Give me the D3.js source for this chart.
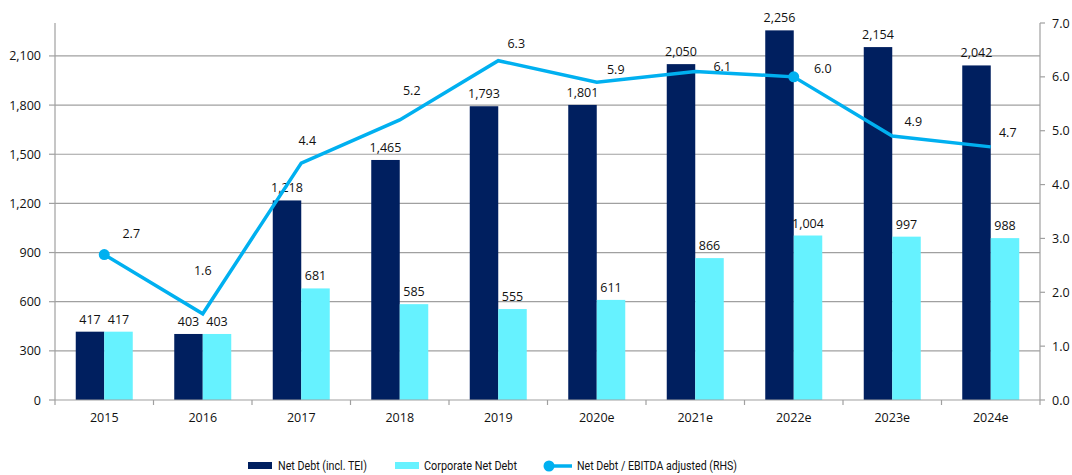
<!DOCTYPE html>
<html><head><meta charset="utf-8">
<script src="https://cdn.jsdelivr.net/npm/d3@7"></script>
<style>body{margin:0;background:#fff}svg{display:block;font-family:"Open Sans","Noto Sans",sans-serif}</style>
</head><body>
<svg id="c" width="1072" height="475"></svg>
<script>
const categories = ["2015","2016","2017","2018","2019","2020e","2021e","2022e","2023e","2024e"];
const netDebt = [417,403,1218,1465,1793,1801,2050,2256,2154,2042];
const corpNetDebt = [417,403,681,585,555,611,866,1004,997,988];
const ratio = [2.7,1.6,4.4,5.2,6.3,5.9,6.1,6.0,4.9,4.7];
const leftTicks = [0,300,600,900,1200,1500,1800,2100];
const rightTicks = [0,1,2,3,4,5,6,7];
const markerIdx = [0,7];
const legendLabels = ["Net Debt (incl. TEI)","Corporate Net Debt","Net Debt / EBITDA adjusted (RHS)"];
// label placement offsets (layout only)
const ratioLabelDx = [27,0,6,12,18,19,27,29,21,17];
const ratioLabelDy = [-21,-43,-23,-29,-17,-13,-5,-8,-15,-14];

const svg = d3.select("#c");
const L=55, R=1040, T=23, B=400;
const x = d3.scaleBand().domain(categories).range([L,R]);
const yL = d3.scaleLinear().domain([0,2301]).range([B,T]);
const yR = d3.scaleLinear().domain([0,7]).range([B,T]);
const axisCol="#a0a0a0";

// gridlines
svg.append("g").selectAll("line").data(leftTicks.filter(d=>d>0)).join("line")
  .attr("x1",L).attr("x2",R).attr("y1",d=>yL(d)).attr("y2",d=>yL(d))
  .attr("stroke",axisCol).attr("stroke-width",1.2);

// bars
const bw = 28.5;
const g = svg.append("g");
g.selectAll(".nd").data(netDebt).join("rect")
  .attr("x",(d,i)=>x(categories[i])+x.bandwidth()/2-bw).attr("width",bw)
  .attr("y",d=>yL(d)).attr("height",d=>B-yL(d)).attr("fill","#001F5F");
g.selectAll(".cd").data(corpNetDebt).join("rect")
  .attr("x",(d,i)=>x(categories[i])+x.bandwidth()/2).attr("width",bw)
  .attr("y",d=>yL(d)).attr("height",d=>B-yL(d)).attr("fill","#66F2FF");

// bar labels
const fmt = d3.format(",");
const lab = svg.append("g").attr("font-size",12.5).attr("fill","#111").attr("text-anchor","middle");
netDebt.forEach((d,i)=>lab.append("text").attr("x",x(categories[i])+x.bandwidth()/2-bw/2).attr("y",yL(d)-8).text(fmt(d)));
corpNetDebt.forEach((d,i)=>lab.append("text").attr("x",x(categories[i])+x.bandwidth()/2+bw/2).attr("y",yL(d)-8).text(fmt(d)));

// axes
const xAxisG = svg.append("g");
xAxisG.append("line").attr("x1",L).attr("x2",R).attr("y1",B).attr("y2",B).attr("stroke",axisCol).attr("stroke-width",1.2);
d3.range(categories.length+1).forEach(i=>{
  const xx = L + i*x.step();
  xAxisG.append("line").attr("x1",xx).attr("x2",xx).attr("y1",B).attr("y2",B+5).attr("stroke",axisCol).attr("stroke-width",1.2);
});
categories.forEach(c=>xAxisG.append("text").attr("x",x(c)+x.bandwidth()/2).attr("y",B+22)
  .attr("text-anchor","middle").attr("font-size",12.5).attr("fill","#111").text(c));

const lA = svg.append("g");
lA.append("line").attr("x1",L).attr("x2",L).attr("y1",T).attr("y2",B).attr("stroke",axisCol).attr("stroke-width",1.2);
leftTicks.forEach(t=>{
  lA.append("line").attr("x1",L-6).attr("x2",L).attr("y1",yL(t)).attr("y2",yL(t)).attr("stroke",axisCol).attr("stroke-width",1.2);
  lA.append("text").attr("x",L-14).attr("y",yL(t)+4.5).attr("text-anchor","end").attr("font-size",12.5).attr("fill","#111").text(fmt(t));
});
const rA = svg.append("g");
rA.append("line").attr("x1",R).attr("x2",R).attr("y1",T).attr("y2",B).attr("stroke",axisCol).attr("stroke-width",1.2);
rightTicks.forEach(t=>{
  rA.append("line").attr("x1",R).attr("x2",R+5).attr("y1",yR(t)).attr("y2",yR(t)).attr("stroke",axisCol).attr("stroke-width",1.2);
  rA.append("text").attr("x",R+12).attr("y",yR(t)+4.5).attr("text-anchor","start").attr("font-size",12.5).attr("fill","#111").text(t.toFixed(1));
});

// line
const cx = i=>x(categories[i])+x.bandwidth()/2;
svg.append("path").datum(ratio)
  .attr("d",d3.line().x((d,i)=>cx(i)).y(d=>yR(d)))
  .attr("fill","none").attr("stroke","#00B0F0").attr("stroke-width",3.5).attr("stroke-linejoin","miter");
markerIdx.forEach(i=>svg.append("circle").attr("cx",cx(i)).attr("cy",yR(ratio[i])).attr("r",5.5).attr("fill","#00B0F0"));
const rl = svg.append("g").attr("font-size",12.5).attr("fill","#111").attr("text-anchor","middle");
ratio.forEach((d,i)=>rl.append("text").attr("x",cx(i)+ratioLabelDx[i]).attr("y",yR(d)+ratioLabelDy[i]+4.5).text(d.toFixed(1)));

// legend
const lg = svg.append("g").attr("font-size",12.5).attr("fill","#111").attr("font-family","Roboto,'Noto Sans',sans-serif");
lg.append("rect").attr("x",248).attr("y",462).attr("width",24).attr("height",7).attr("fill","#001F5F");
lg.append("text").attr("x",278).attr("y",470).attr("textLength",89).attr("lengthAdjust","spacingAndGlyphs").text(legendLabels[0]);
lg.append("rect").attr("x",395).attr("y",462).attr("width",24).attr("height",7).attr("fill","#66F2FF");
lg.append("text").attr("x",424).attr("y",470).attr("textLength",93).attr("lengthAdjust","spacingAndGlyphs").text(legendLabels[1]);
lg.append("line").attr("x1",549).attr("x2",572).attr("y1",466).attr("y2",466).attr("stroke","#00B0F0").attr("stroke-width",3.5);
lg.append("circle").attr("cx",549).attr("cy",466).attr("r",5.5).attr("fill","#00B0F0");
lg.append("text").attr("x",577).attr("y",470).attr("textLength",160).attr("lengthAdjust","spacingAndGlyphs").text(legendLabels[2]);
</script>
</body></html>
